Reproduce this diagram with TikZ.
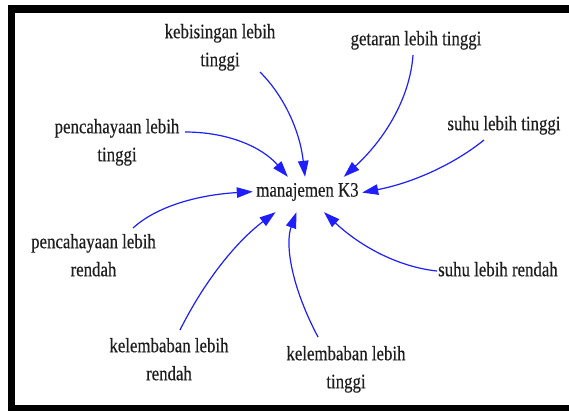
\documentclass[tikz,border=0pt]{standalone}
\usepackage{fontspec}
\setmainfont{Liberation Serif}[FakeStretch=0.82,FakeBold=0.35]
\usetikzlibrary{arrows.meta}
\definecolor{linkblue}{RGB}{30,30,255}
\definecolor{ink}{RGB}{30,30,30}
\begin{document}
\begin{tikzpicture}[x=1pt,y=-1pt,
  lbl/.style={font=\fontsize{20.5}{28}\selectfont, text=ink, align=center, inner sep=0pt, anchor=north},
  hub/.style={font=\fontsize{20.5}{28}\selectfont, text=ink, inner sep=0pt, minimum width=109pt,
    minimum height=35pt, text height=13.2pt, text depth=9pt},
  flow/.style={draw=linkblue, line width=1.2pt, -{Triangle[length=16pt,width=10.5pt]}},
]
\useasboundingbox (0,0) rectangle (569,410);
\begin{scope}
\clip (0,0) rectangle (569,410);
\fill[white] (0,0) rectangle (569,410);
% frame, its right side lies beyond the page
\draw[line width=7.5pt] (11.5,9) rectangle (700,409);
\end{scope}

% central variable
\node[hub] (mk) at (307.5,194.5) {manajemen K3};

% factors
\node[lbl] (kb) at (220,23.8) {kebisingan lebih\\tinggi};
\node[lbl] (gt) at (416,30.8) {getaran lebih tinggi};
\node[lbl] (st) at (504,115.8) {suhu lebih tinggi};
\node[lbl] (pt) at (117,118.8) {pencahayaan lebih\\tinggi};
\node[lbl] (pr) at (93.5,233.8) {pencahayaan lebih\\rendah};
\node[lbl] (kr) at (169,337.8) {kelembaban lebih\\rendah};
\node[lbl] (kt) at (346,345.8) {kelembaban lebih\\tinggi};
\node[lbl] (sr) at (498,261.8) {suhu lebih rendah};

% causal links
\draw[flow] ([shift={(40,48.2)}]kb.north) .. controls (285,97) and (300,132) .. (mk.98.1);
\draw[flow] ([shift={(-3,24.2)}]gt.north) .. controls (410,97) and (386,138) .. (mk.26.9);
\draw[flow] ([shift={(-20,24.2)}]st.north) .. controls (453,165) and (412,183) .. (mk.2.6);
\draw[flow] ([shift={(68,13.2)}]pt.north) .. controls (228,132) and (262,147) .. (mk.138.1);
\draw[flow] ([shift={(39.5,-5.8)}]pr.north) .. controls (156,207) and (196,195) .. (mk.177.4);
\draw[flow] ([shift={(11,-7.8)}]kr.north) .. controls (205,280) and (237,241) .. (mk.209.8);
\draw[flow] ([shift={(-28,-8.8)}]kt.north) .. controls (291,286) and (285,244) .. (mk.238.5);
\draw[flow] ([shift={(-61,9.2)}]sr.north) .. controls (399,267) and (361,247) .. (mk.313.1);
\end{tikzpicture}
\end{document}
